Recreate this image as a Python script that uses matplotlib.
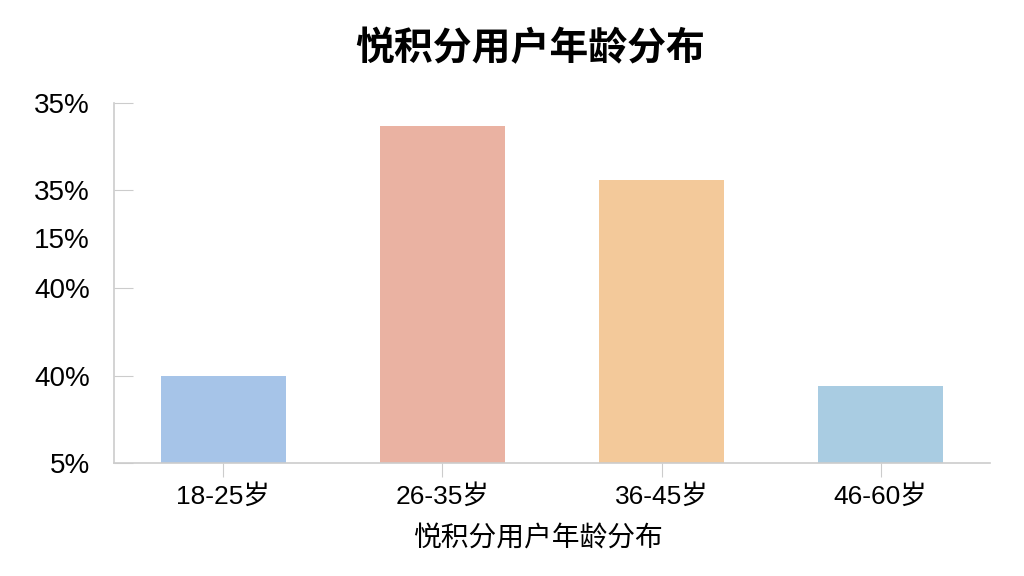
import matplotlib
matplotlib.use("Agg")
from matplotlib import pyplot as plt

plt.rcParams['font.family'] = ['Liberation Sans', 'Noto Sans CJK SC']

# dados
faixas = ['18-25岁', '26-35岁', '36-45岁', '46-60岁']
valores = [12.3, 33.1, 28.6, 11.4]
cores = ['#a6c4e8', '#eab2a2', '#f3c99a', '#a9cce2']
tick_pos = [5, 12.3, 19.6, 23.75, 27.75, 35]
tick_txt = ['5%', '40%', '40%', '15%', '35%', '35%']
titulo = '悦积分用户年龄分布'

fig = plt.figure(figsize=(10.24, 5.76), dpi=100)
ax = fig.add_axes([0.111, 0.196, 0.856, 0.625])

base = 5
ax.bar(range(len(faixas)), [v - base for v in valores], width=0.57, color=cores, bottom=base)
ax.set_xlim(-0.5, 3.5)
ax.set_ylim(5, 35)

ax.set_xticks(range(len(faixas)))
ax.set_xticklabels(faixas, fontsize=19)
ax.set_yticks(tick_pos)
ax.set_yticklabels(tick_txt, fontsize=20)
ax.yaxis.get_major_ticks()[3].tick1line.set_visible(False)

ax.tick_params(axis='y', direction='in', length=14, color='#cccccc', pad=17)
ax.tick_params(axis='x', direction='out', length=10, color='#cccccc', pad=5)

for s in ['top', 'right']:
    ax.spines[s].set_visible(False)
ax.spines['left'].set_color('#cccccc')
ax.spines['bottom'].set_color('#cccccc')
ax.spines['left'].set_linewidth(1.2)
ax.spines['bottom'].set_linewidth(1.2)

ax.set_xlabel(titulo, fontsize=20, family=['Noto Sans CJK SC'])
ax.xaxis.set_label_coords(0.484, -0.165)
fig.text(0.518, 0.915, titulo, ha='center', va='center', fontsize=28,
         fontweight='bold', family=['Noto Sans CJK SC'])

fig.savefig('out.png', dpi=100, facecolor='white')
